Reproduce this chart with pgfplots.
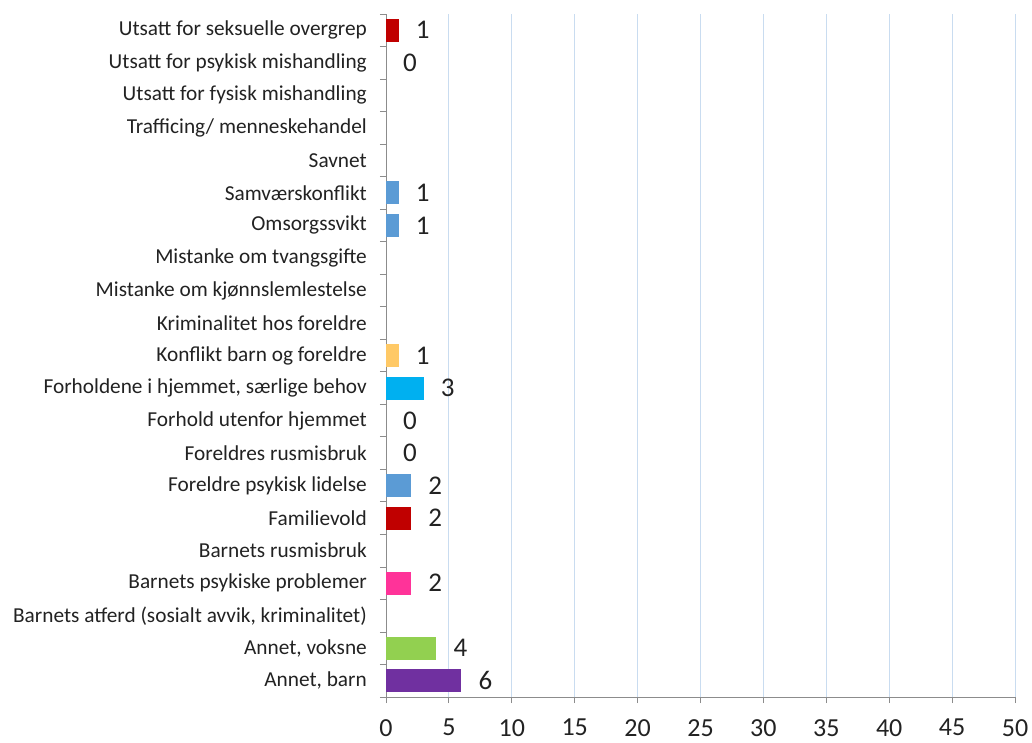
\documentclass[border=0pt]{standalone}
\usepackage{fontspec}
\setmainfont{Carlito}
\usepackage{pgfplots}
\pgfplotsset{compat=1.18}
\definecolor{cpurple}{HTML}{7030A0}
\definecolor{cgreen}{HTML}{92D050}
\definecolor{cpink}{HTML}{FF3399}
\definecolor{cred}{HTML}{C00000}
\definecolor{cblue}{HTML}{5B9BD5}
\definecolor{ccyan}{HTML}{00B0F0}
\definecolor{corange}{HTML}{FFC966}
\definecolor{cgrid}{HTML}{C9DCF0}
\definecolor{caxis}{HTML}{8C8C8C}
\definecolor{ctext}{HTML}{222222}
\begin{document}
\begin{tikzpicture}
\begin{axis}[
  name=a,
  scale only axis,
  width=629pt, height=683pt,
  xbar,
  xmin=0, xmax=50,
  ymin=-0.5, ymax=20.5,
  xtick={0,5,...,50},
  ytick={0,...,20},
  yticklabels={{Annet, barn},{Annet, voksne},{Barnets atferd (sosialt avvik, kriminalitet)},{Barnets psykiske problemer},{Barnets rusmisbruk},{Familievold},{Foreldre psykisk lidelse},{Foreldres rusmisbruk},{Forhold utenfor hjemmet},{Forholdene i hjemmet, særlige behov},{Konflikt barn og foreldre},{Kriminalitet hos foreldre},{Mistanke om kjønnslemlestelse},{Mistanke om tvangsgifte},{Omsorgssvikt},{Samværskonflikt},{Savnet},{Trafficing/ menneskehandel},{Utsatt for fysisk mishandling},{Utsatt for psykisk mishandling},{Utsatt for seksuelle overgrep}},
  minor ytick={-0.5,0.5,...,20.5},
  major y tick style={draw=none},
  minor y tick style={draw=caxis, line width=0.8pt},
  x tick style={draw=caxis, line width=0.8pt},
  tick align=outside,
  major tick length=6pt,
  minor tick length=6pt,
  xmajorgrids,
  major x grid style={draw=cgrid, line width=0.8pt},
  axis x line*=bottom,
  axis y line*=left,
  axis line style={draw=caxis, line width=0.8pt},
  x axis line style={-},
  y axis line style={-},
  /pgf/number format/assume math mode=true,
  x tick label style={font=\fontsize{26}{26}\selectfont, text=ctext, inner sep=0pt, anchor=north, yshift=-16pt},
  y tick label style={font=\fontsize{21.3}{21.3}\selectfont, text=ctext, inner sep=0pt, xshift=-13pt},
  nodes near coords,
  point meta=explicit symbolic,
  every node near coord/.append style={anchor=west, inner sep=0pt, xshift=17pt, font=\fontsize{27}{27}\selectfont, text=ctext},
  bar width=23pt,
  clip=false,
]
\addplot[bar shift=0pt, fill=cpurple, draw=none] coordinates {(6,0)[6]};
\addplot[bar shift=0pt, fill=cgreen, draw=none] coordinates {(4,1)[4]};
\addplot[bar shift=0pt, fill=cpink, draw=none] coordinates {(2,3)[2]};
\addplot[bar shift=0pt, fill=cred, draw=none] coordinates {(2,5)[2]};
\addplot[bar shift=0pt, fill=cblue, draw=none] coordinates {(2,6)[2]};
\addplot[bar shift=0pt, fill=none, draw=none] coordinates {(0,7)[0]};
\addplot[bar shift=0pt, fill=none, draw=none] coordinates {(0,8)[0]};
\addplot[bar shift=0pt, fill=ccyan, draw=none] coordinates {(3,9)[3]};
\addplot[bar shift=0pt, fill=corange, draw=none] coordinates {(1,10)[1]};
\addplot[bar shift=0pt, fill=cblue, draw=none] coordinates {(1,14)[1]};
\addplot[bar shift=0pt, fill=cblue, draw=none] coordinates {(1,15)[1]};
\addplot[bar shift=0pt, fill=none, draw=none] coordinates {(0,19)[0]};
\addplot[bar shift=0pt, fill=cred, draw=none] coordinates {(1,20)[1]};
\end{axis}
\path (a.south west) ++(-386pt,-46pt) coordinate (bl);
\path (a.north east) ++(17pt,14pt) coordinate (tr);
\useasboundingbox (bl) rectangle (tr);
\end{tikzpicture}
\end{document}
